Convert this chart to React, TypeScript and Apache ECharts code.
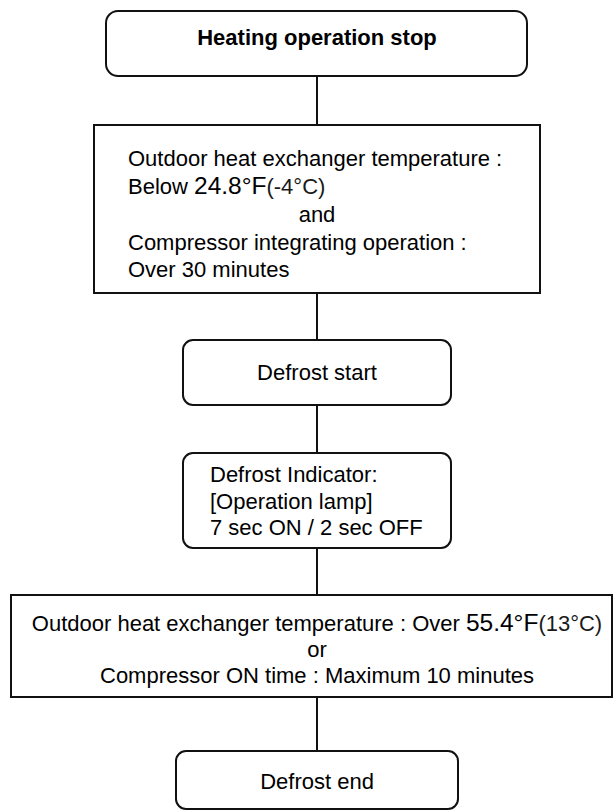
import React, { useEffect, useRef } from "react";
import * as echarts from "echarts";

// ---- Flowchart content ----
const titleText = "Heating operation stop";
const conditionLines = [
  "{n|Outdoor heat exchanger temperature :}",
  "{n|Below }{big|24.8°F}{sm|(-4°C)}",
  "{n|and}",
  "{n|Compressor integrating operation :}",
  "{n|Over 30 minutes}",
];
const conditionAlign = ["left", "left", "center", "left", "left"];
const startText = "Defrost start";
const indicatorLines = ["Defrost Indicator:", "[Operation lamp]", "7 sec ON / 2 sec OFF"];
const endConditionLines = [
  "{n|Outdoor heat exchanger temperature : Over }{big|55.4°F}{sm|(13°C)}",
  "{n|or}",
  "{n|Compressor ON time : Maximum 10 minutes}",
];
const endText = "Defrost end";

const FONT = "'Liberation Sans', Arial, Helvetica, sans-serif";
const STROKE = "#111";
const CX = 317;

export default function App() {
  const ref = useRef<HTMLDivElement>(null);
  useEffect(() => {
    document.body.style.margin = "0";
    const chart = echarts.init(ref.current!, null, { renderer: "svg" });
    const fs = 22;
    const rich = {
      n: { fontSize: fs, fontFamily: FONT, fill: "#000", lineHeight: 28, verticalAlign: "bottom" },
      big: { fontSize: 24.5, fontFamily: FONT, fill: "#000", lineHeight: 28, verticalAlign: "bottom" },
      sm: { fontSize: 22, fontFamily: FONT, fill: "#1a1a1a", lineHeight: 28, verticalAlign: "bottom" },
    };
    const box = (x1: number, y1: number, x2: number, y2: number, r: number) => ({
      type: "rect",
      shape: { x: x1, y: y1, width: x2 - x1, height: y2 - y1, r },
      style: { fill: "#fff", stroke: STROKE, lineWidth: 2 },
    });
    const conn = (y1: number, y2: number) => ({
      type: "line",
      shape: { x1: CX, y1, x2: CX, y2 },
      style: { stroke: STROKE, lineWidth: 2 },
    });
    const txt = (x: number, y: number, text: string, align = "center", extra: any = {}) => ({
      type: "text",
      x,
      y,
      style: {
        text,
        fontSize: fs,
        fontFamily: FONT,
        fill: "#000",
        align,
        verticalAlign: "middle",
        rich,
        ...extra,
      },
    });

    const els: any[] = [];
    // connectors
    els.push(conn(76, 125), conn(293, 340), conn(405, 453), conn(548, 595), conn(697, 751));
    // box 1
    els.push(box(106, 11, 527, 76, 12));
    els.push(txt(CX, 37, titleText, "center", { fontWeight: "bold", fontSize: 22 }));
    // box 2
    els.push(box(94, 125, 540, 293, 0));
    const c2y = [155.5, 183.5, 211, 239.5, 266.5];
    conditionLines.forEach((l, i) => {
      els.push(txt(conditionAlign[i] === "center" ? CX : 128, c2y[i], l, conditionAlign[i]));
    });
    // box 3
    els.push(box(183, 340, 451, 405, 10));
    els.push(txt(CX, 372.5, startText));
    // box 4
    els.push(box(183, 453, 451, 548, 10));
    const c4y = [474.5, 501, 527.5];
    indicatorLines.forEach((l, i) => els.push(txt(210, c4y[i], l, "left")));
    // box 5
    els.push(box(11, 595, 612, 697, 0));
    const c5y = [620.5, 646.5, 672.5];
    endConditionLines.forEach((l, i) => els.push(txt(CX, c5y[i], l)));
    // box 6
    els.push(box(176, 751, 458, 809, 10));
    els.push(txt(CX, 781, endText));

    chart.setOption({
      animation: false,
      backgroundColor: "#fff",
      graphic: { elements: els },
    });
    return () => chart.dispose();
  }, []);
  return (
    <div
      ref={ref}
      style={{ position: "absolute", left: 0, top: 0, width: 613, height: 811 }}
    />
  );
}
